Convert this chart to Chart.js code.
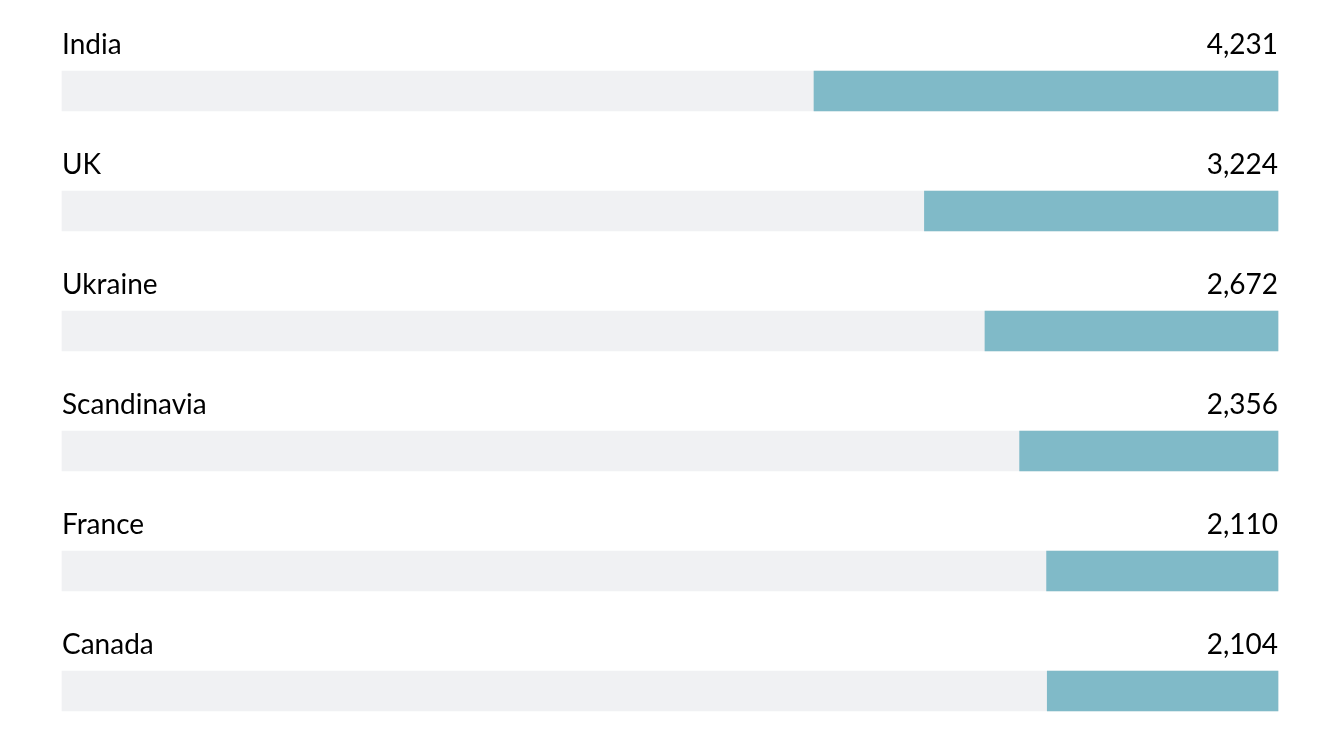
<!DOCTYPE html>
<html>
<head>
<meta charset="utf-8">
<script src="https://cdn.jsdelivr.net/npm/chart.js@4.4.0/dist/chart.umd.min.js"></script>
<style>
  html, body { margin: 0; padding: 0; background: #ffffff; }
  #wrap { width: 1318px; height: 740px; }
</style>
</head>
<body>
<div id="wrap"><canvas id="chart"></canvas></div>
<script>
// categories and values
const countries = ['India', 'UK', 'Ukraine', 'Scandinavia', 'France', 'Canada'];
const counts = [4231, 3224, 2672, 2356, 2110, 2104];
// full length of the grey track
const scaleMax = 11088;
const track = countries.map(function () { return scaleMax; });

// writes the name above-left and the number above-right of each bar
const rowLabels = {
    id: 'rowLabels',
    afterDatasetsDraw: function (chart) {
        const ctx = chart.ctx;
        const area = chart.chartArea;
        const meta = chart.getDatasetMeta(1);
        ctx.save();
        ctx.font = '28px Lato';
        ctx.fillStyle = '#000000';
        ctx.textBaseline = 'alphabetic';
        meta.data.forEach(function (bar, i) {
            const y = bar.y - 37;
            ctx.textAlign = 'left';
            ctx.fillText(countries[i], area.left, y);
            ctx.textAlign = 'right';
            ctx.fillText(counts[i].toLocaleString('en-US'), area.right, y);
        });
        ctx.restore();
    }
};

new Chart(document.getElementById('chart'), {
    type: 'bar',
    data: {
        labels: countries,
        datasets: [
            {
                label: 'track',
                data: track,
                backgroundColor: '#f0f1f3',
                barThickness: 40,
                grouped: false,
                order: 2,
                clip: false
            },
            {
                label: 'count',
                data: counts,
                backgroundColor: '#80bac8',
                barThickness: 40,
                grouped: false,
                order: 1,
                clip: false
            }
        ]
    },
    options: {
        indexAxis: 'y',
        responsive: true,
        maintainAspectRatio: false,
        animation: false,
        layout: {
            padding: { left: 62, right: 40, top: 91, bottom: 49 }
        },
        plugins: {
            legend: { display: false },
            tooltip: { enabled: false }
        },
        scales: {
            x: {
                display: false,
                reverse: true,
                min: 0,
                max: scaleMax
            },
            y: {
                display: false,
                offset: false
            }
        }
    },
    plugins: [rowLabels]
});
</script>
</body>
</html>
